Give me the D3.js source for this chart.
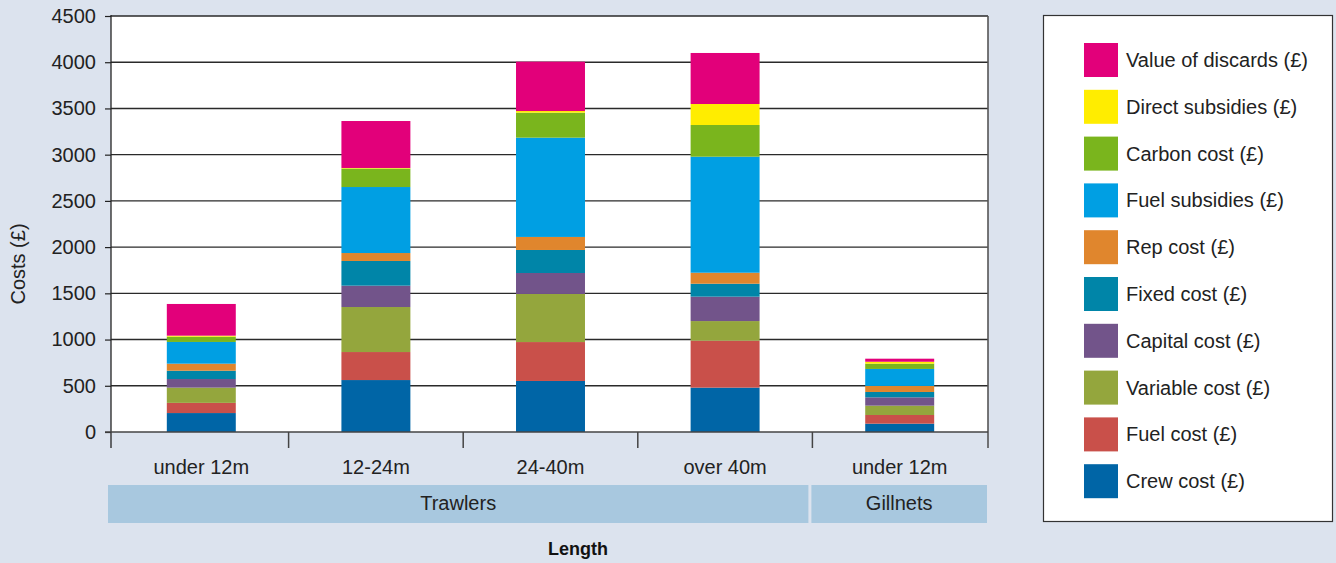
<!DOCTYPE html>
<html><head><meta charset="utf-8">
<script src="https://cdn.jsdelivr.net/npm/d3@7/dist/d3.min.js"></script>
<style>
html,body{margin:0;padding:0;background:#dce3ee;}
svg{display:block;font-family:"Liberation Sans",Arial,sans-serif;}
</style></head><body>
<svg id="c" width="1336" height="563"></svg>
<script>
const categories = ["under 12m","12-24m","24-40m","over 40m","under 12m"];
const groups = [{name:"Trawlers", count:4},{name:"Gillnets", count:1}];
const yTicks = [0,500,1000,1500,2000,2500,3000,3500,4000,4500];

const seriesNames = ["Crew cost (£)","Fuel cost (£)","Variable cost (£)","Capital cost (£)","Fixed cost (£)","Rep cost (£)","Fuel subsidies (£)","Carbon cost (£)","Direct subsidies (£)","Value of discards (£)"];
const seriesColors = ["#0065a6","#c9504a","#94a63d","#72548a","#0085a8","#e0862d","#009fe3","#7ab51d","#ffed00","#e2007a"];

const crew      = [205, 562, 552, 480, 90];
const fuelCost  = [110, 303, 421, 508, 94];
const variable  = [165, 487, 520, 212, 101];
const capital   = [93, 231, 227, 264, 90];
const fixed     = [90, 267, 249, 140, 58];
const rep       = [76, 86, 141, 119, 65];
const fuelSubs  = [235, 714, 1074, 1255, 184];
const carbon    = [57, 200, 270, 343, 57];
const direct    = [11, 6, 18, 227, 21];
const discards  = [343, 508, 534, 552, 33];
const seriesValues = [crew, fuelCost, variable, capital, fixed, rep, fuelSubs, carbon, direct, discards];

const svg = d3.select("#c");
const L = 111, R = 988, T = 16, B = 432;
const FS = 20;

const ids = categories.map((c,i)=>i);
const x = d3.scaleBand().domain(ids).range([L+3,R-1]).paddingInner(0.605).paddingOuter(0.3025);
const y = d3.scaleLinear().domain([0,4500]).range([B,T]);

// plot area
svg.append("rect").attr("x",L).attr("y",T).attr("width",R-L).attr("height",B-T).attr("fill","#fff");

// gridlines
svg.append("g").selectAll("line").data(yTicks.filter(d=>d>0)).join("line")
  .attr("x1",L).attr("x2",R).attr("y1",d=>y(d)).attr("y2",d=>y(d))
  .attr("stroke","#2a2a2a").attr("stroke-width",1.4);

// stacked data
const table = ids.map(i=>{const o={id:i}; seriesNames.forEach((s,k)=>o[s]=seriesValues[k][i]); return o;});
const stack = d3.stack().keys(seriesNames)(table);

svg.append("g").selectAll("g").data(stack).join("g")
  .attr("fill",(d,i)=>seriesColors[i])
  .selectAll("rect").data(d=>d).join("rect")
  .attr("x",d=>x(d.data.id)).attr("width",x.bandwidth())
  .attr("y",d=>y(d[1])).attr("height",d=>y(d[0])-y(d[1]));

// right border
svg.append("line").attr("x1",R).attr("x2",R).attr("y1",T).attr("y2",448).attr("stroke","#555").attr("stroke-width",1.6);

// y axis
const ya = svg.append("g").attr("transform",`translate(${L},0)`)
  .call(d3.axisLeft(y).tickValues(yTicks).tickSize(6).tickPadding(9).tickFormat(d3.format("d")));
ya.select(".domain").remove();
ya.selectAll(".tick line").attr("stroke","#222").attr("stroke-width",1.2);
ya.selectAll(".tick text").attr("font-size",FS).attr("fill","#222").attr("font-family","Liberation Sans, Arial, sans-serif");
svg.append("line").attr("x1",L).attr("x2",L).attr("y1",T-1).attr("y2",448).attr("stroke","#222").attr("stroke-width",1.3);

// x axis baseline & category ticks
svg.append("line").attr("x1",L-6).attr("x2",R).attr("y1",B).attr("y2",B).attr("stroke","#444").attr("stroke-width",1.6);
const bounds = ids.map(i=>x(i)-x.step()*x.paddingInner()/2).concat([R]);
bounds[0]=L;
svg.append("g").selectAll("line").data(bounds.slice(1,-1)).join("line")
  .attr("x1",d=>d).attr("x2",d=>d).attr("y1",B).attr("y2",448).attr("stroke","#444").attr("stroke-width",1.5);

svg.append("g").selectAll("text").data(ids).join("text")
  .attr("x",d=>x(d)+x.bandwidth()/2).attr("y",474)
  .attr("text-anchor","middle").attr("font-size",FS).attr("fill","#222")
  .text(d=>categories[d]);

// group bands
let start = 0;
groups.forEach(g=>{
  const x0 = start===0 ? 108 : bounds[start]-1;
  const x1 = start+g.count>=categories.length ? R-1 : bounds[start+g.count]-4;
  svg.append("rect").attr("x",x0).attr("y",485).attr("width",x1-x0).attr("height",38).attr("fill","#a8c8df");
  svg.append("text").attr("x",(x0+x1)/2).attr("y",510).attr("text-anchor","middle")
    .attr("font-size",FS).attr("fill","#222").text(g.name);
  start += g.count;
});

// axis titles
svg.append("text").attr("x",578).attr("y",555).attr("text-anchor","middle")
  .attr("font-size",18).attr("font-weight","bold").attr("fill","#111").text("Length");
svg.append("text").attr("transform","translate(25,264) rotate(-90)").attr("text-anchor","middle")
  .attr("font-size",FS).attr("fill","#222").text("Costs (£)");

// legend
svg.append("rect").attr("x",1043.5).attr("y",15.5).attr("width",289).attr("height",506)
  .attr("fill","#fff").attr("stroke","#333").attr("stroke-width",1.2);
const leg = svg.append("g").selectAll("g").data(seriesNames.map((s,i)=>i).reverse()).join("g")
  .attr("transform",(d,j)=>`translate(1084,${43+j*46.8})`);
leg.append("rect").attr("width",34).attr("height",34).attr("fill",d=>seriesColors[d]);
leg.append("text").attr("x",42).attr("y",24).attr("font-size",FS).attr("fill","#222").text(d=>seriesNames[d]);
</script>
</body></html>
